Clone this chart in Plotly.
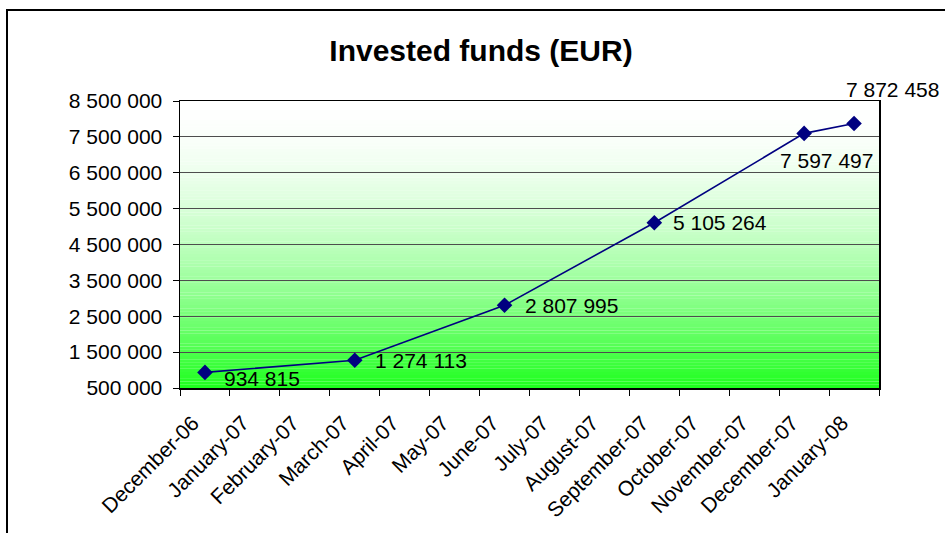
import plotly.graph_objects as go

# ---- data ----
months = ["December-06", "January-07", "February-07", "March-07", "April-07", "May-07",
          "June-07", "July-07", "August-07", "September-07", "October-07", "November-07",
          "December-07", "January-08"]
point_months = ["December-06", "March-07", "June-07", "September-07", "December-07", "January-08"]
invested = [934815, 1274113, 2807995, 5105264, 7597497, 7872458]
y_ticks = [500000, 1500000, 2500000, 3500000, 4500000, 5500000, 6500000, 7500000, 8500000]
title_text = "Invested funds (EUR)"

# label placement (style): (xanchor, xshift, yshift)
label_pos = [("left", 17, -6), ("left", 18, 0), ("left", 18, 0), ("left", 17, 0),
             ("center", 22, -27), ("center", 38, 34)]

W, H = 945, 533
L, R, T, B = 180, 879, 101, 388
FONT = "Liberation Sans, Arial, sans-serif"

def fmt(v):
    return f"{v:,}".replace(",", " ")

fig = go.Figure()
fig.add_trace(go.Scatter(
    x=point_months, y=invested, mode="lines+markers",
    line=dict(color="#000080", width=1.6),
    marker=dict(symbol="diamond", size=12, color="#000080"),
    hoverinfo="skip", showlegend=False,
))

annotations = []
for m, v, (anc, xs, ys) in zip(point_months, invested, label_pos):
    annotations.append(dict(x=m, y=v, xref="x", yref="y", text=fmt(v), showarrow=False,
                            xanchor=anc, yanchor="middle", xshift=xs, yshift=ys,
                            font=dict(family=FONT, size=21, color="black")))

# gradient background bands (white top -> bright green bottom)
shapes = []
N = 90
for i in range(N):
    t = (i + 0.5) / N  # 0 at top, 1 at bottom
    f = t ** 1.8
    c = int(round(255 - (255 - 28) * f))
    shapes.append(dict(type="rect", xref="x domain", yref="y domain",
                       x0=0, x1=1, y0=1 - (i + 1) / N, y1=1 - i / N + 0.0005,
                       fillcolor=f"rgb({c},255,{c})", line=dict(width=0), layer="below"))

# outer chart frame (partially cropped, top and left edges visible)
def px2paper_x(px):
    return (px - L) / (R - L)

def px2paper_y(py):
    return (B - py) / (B - T)

shapes.append(dict(type="line", xref="paper", yref="paper",
                   x0=px2paper_x(7), x1=px2paper_x(7), y0=px2paper_y(10), y1=px2paper_y(545),
                   line=dict(color="black", width=2), layer="above"))
shapes.append(dict(type="line", xref="paper", yref="paper",
                   x0=px2paper_x(6), x1=px2paper_x(960), y0=px2paper_y(10), y1=px2paper_y(10),
                   line=dict(color="black", width=2), layer="above"))

fig.update_layout(
    width=W, height=H,
    margin=dict(l=L, r=W - R, t=T, b=H - B, autoexpand=False),
    paper_bgcolor="white", plot_bgcolor="white",
    separators=". ",
    title=dict(text=f"<b>{title_text}</b>", x=481 / W, xref="container", xanchor="center",
               y=1 - 50 / H, yref="container", yanchor="middle",
               font=dict(family=FONT, size=30, color="black")),
    font=dict(family=FONT, size=21, color="black"),
    annotations=annotations,
    shapes=shapes,
    xaxis=dict(type="category", categoryorder="array", categoryarray=months,
               range=[-0.5, len(months) - 0.5], tickvals=months, ticktext=months,
               tickangle=-45, ticks="outside", ticklen=6, tickcolor="black",
               tickson="boundaries", showgrid=False, showline=True, linecolor="black",
               linewidth=1.5, mirror=True, tickfont=dict(family=FONT, size=21, color="black"),
               ticklabelstandoff=13, ticklabelshift=-12, zeroline=False),
    yaxis=dict(range=[500000, 8500000], tickvals=y_ticks, tickformat=",d",
               ticks="outside", ticklen=6, tickcolor="black",
               showgrid=True, gridcolor="#4d4d4d", gridwidth=1,
               showline=True, linecolor="black", linewidth=1.5, mirror=True,
               tickfont=dict(family=FONT, size=21, color="black"),
               ticklabelstandoff=6, zeroline=False),
)

# remove the default page margin so the 945x533 figure fills the window exactly
fig.write_html("out.html",
               config={"displayModeBar": False, "staticPlot": True},
               post_script="document.body.style.margin='0';document.body.style.overflow='hidden';")
